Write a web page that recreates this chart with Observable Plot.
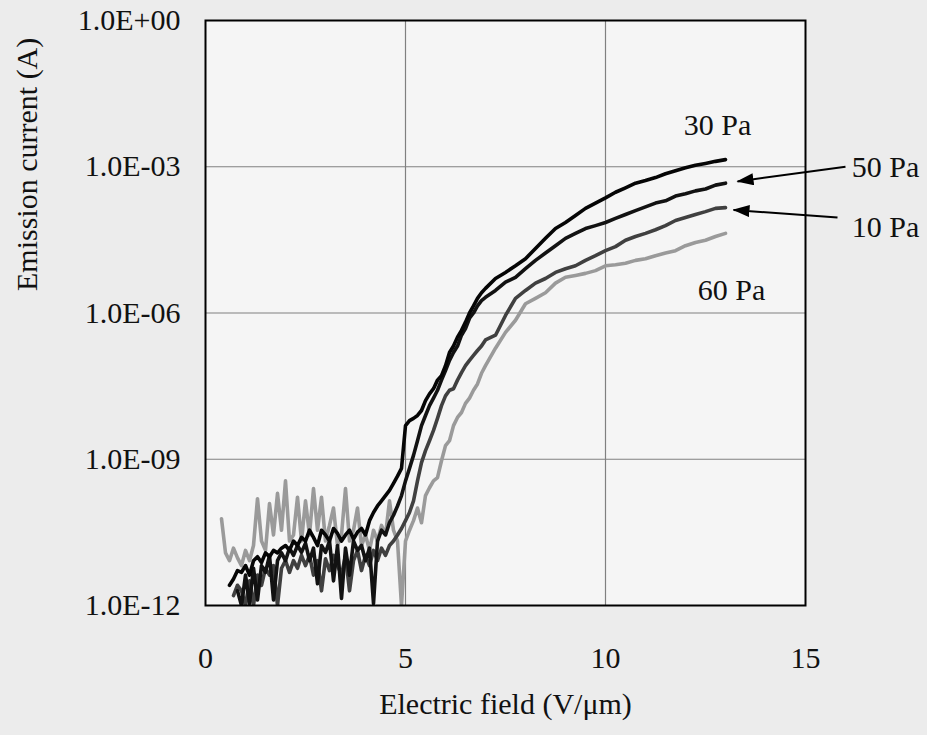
<!DOCTYPE html>
<html><head><meta charset="utf-8">
<script src="https://cdn.jsdelivr.net/npm/d3@7"></script>
<script src="https://cdn.jsdelivr.net/npm/@observablehq/plot@0.6"></script>
<style>
html,body{margin:0;padding:0;background:#ececec;}
#chart{width:927px;height:735px;}
</style></head><body><div id="chart"></div>
<script>
// Electric field grid (V/µm)
const field = [0.4,0.5,0.6,0.7,0.8,0.9,1.0,1.1,1.2,1.3,
  1.4,1.5,1.6,1.7,1.8,1.9,2.0,2.1,2.2,2.3,
  2.4,2.5,2.6,2.7,2.8,2.9,3.0,3.1,3.2,3.3,
  3.4,3.5,3.6,3.7,3.8,3.9,4.0,4.1,4.2,4.3,
  4.4,4.5,4.6,4.7,4.8,4.9,5.0,5.1,5.2,5.3,
  5.4,5.5,5.6,5.7,5.8,5.9,6.0,6.1,6.2,6.3,
  6.4,6.5,6.6,6.7,6.8,6.9,7.0,
  7.25,7.5,7.75,8.0,8.25,8.5,8.75,9.0,9.25,9.5,
  9.75,10.0,10.25,10.5,10.75,11.0,11.25,11.5,11.75,12.0,
  12.25,12.5,12.75,13.0];

// Emission current (A) per pressure
const current30 = [null,null,2.6e-12,3.5e-12,5.2e-12,4.8e-12,6.6e-12,4.2e-12,8.3e-12,1.0e-11,
  7.6e-12,1.2e-11,1.0e-11,1.35e-11,1.2e-11,1.5e-11,1.7e-11,1.35e-11,2.1e-11,1.7e-11,
  2.5e-11,2.1e-11,3.5e-11,2.5e-11,1.7e-11,3.5e-11,2.8e-11,2.1e-11,3.8e-11,3.0e-11,
  2.1e-11,2.8e-11,3.5e-11,2.3e-11,3.2e-11,3.8e-11,2.8e-11,5.5e-11,8.1e-11,1.1e-10,
  1.4e-10,1.8e-10,2.3e-10,3.2e-10,4.5e-10,6.5e-10,4.9e-9,6.2e-9,6.9e-9,7.9e-9,
  1.0e-8,1.6e-8,2.2e-8,2.8e-8,4.2e-8,5.2e-8,8.3e-8,1.55e-7,2.1e-7,3.2e-7,
  4.4e-7,6.5e-7,1.0e-6,1.4e-6,2.0e-6,2.6e-6,3.2e-6,
  5.1e-6,6.8e-6,9.3e-6,1.3e-5,2.1e-5,3.4e-5,5.4e-5,7.2e-5,1.0e-4,1.4e-4,
  1.8e-4,2.3e-4,3.0e-4,3.7e-4,4.6e-4,5.2e-4,6.0e-4,7.2e-4,8.3e-4,9.5e-4,
  1.07e-3,1.17e-3,1.29e-3,1.4e-3];

const current50 = [null,null,null,null,2.0e-12,1.0e-12,4.2e-12,1.1e-12,5.8e-12,1.3e-12,
  6.6e-12,4.8e-12,1.07e-11,1.3e-12,8.3e-12,1.2e-11,8.3e-12,1.5e-11,1.07e-11,1.7e-11,
  1.23e-11,1.9e-11,8.3e-12,1.5e-11,2.8e-12,1.7e-11,1.23e-11,2.1e-11,3.2e-12,1.7e-11,
  1.4e-12,1.5e-11,4.2e-12,2.1e-11,1.35e-11,1.7e-11,8.3e-12,1.5e-11,1.1e-12,2.1e-11,
  3.5e-11,2.8e-11,5.0e-11,7.1e-11,1.1e-10,1.8e-10,3.6e-10,6.5e-10,1.2e-9,2.4e-9,
  4.9e-9,7.9e-9,1.26e-8,1.8e-8,2.6e-8,4.2e-8,6.6e-8,1.07e-7,1.55e-7,2.1e-7,
  3.5e-7,4.8e-7,7.8e-7,1.0e-6,1.4e-6,1.8e-6,2.1e-6,
  2.9e-6,4.3e-6,5.4e-6,8.1e-6,1.2e-5,1.7e-5,2.4e-5,3.4e-5,4.3e-5,5.4e-5,
  6.2e-5,7.2e-5,8.7e-5,1.05e-4,1.26e-4,1.5e-4,1.8e-4,2.0e-4,2.5e-4,2.8e-4,
  3.2e-4,3.5e-4,4.2e-4,4.6e-4];

const current10 = [null,null,null,1.6e-12,2.6e-12,2.0e-12,1.0e-12,3.2e-12,1.0e-12,4.2e-12,
  2.6e-12,5.8e-12,4.2e-12,6.6e-12,1.0e-12,5.8e-12,8.3e-12,4.8e-12,8.3e-12,5.8e-12,
  1.07e-11,6.6e-12,1.07e-11,4.2e-12,8.3e-12,2.0e-12,9.1e-12,5.2e-12,1.07e-11,6.6e-12,
  4.2e-12,1.07e-11,2.0e-12,8.3e-12,1.35e-11,5.2e-12,1.07e-11,6.6e-12,1.35e-11,8.3e-12,
  1.5e-11,1.07e-11,1.7e-11,2.1e-11,2.8e-11,3.8e-11,5.5e-11,8.1e-11,1.4e-10,3.6e-10,
  8.5e-10,1.5e-9,2.4e-9,3.9e-9,6.9e-9,1.26e-8,2.0e-8,2.6e-8,2.8e-8,4.2e-8,
  6.0e-8,8.3e-8,1.07e-7,1.35e-7,1.7e-7,2.1e-7,2.8e-7,
  3.5e-7,8.9e-7,2.0e-6,2.9e-6,4.1e-6,5.1e-6,6.8e-6,8.1e-6,9.3e-6,1.2e-5,
  1.5e-5,1.9e-5,2.3e-5,3.1e-5,3.7e-5,4.3e-5,5.1e-5,6.2e-5,7.9e-5,9.1e-5,
  1.05e-4,1.2e-4,1.4e-4,1.45e-4];

const current60 = [6.0e-11,1.2e-11,8.3e-12,1.5e-11,9.5e-12,6.6e-12,1.35e-11,8.3e-12,1.7e-11,1.55e-10,
  2.1e-11,1.35e-11,1.23e-10,2.8e-11,2.0e-10,3.5e-11,3.6e-10,2.1e-11,2.8e-11,1.66e-10,
  2.1e-11,1.4e-10,2.8e-11,2.5e-10,3.5e-11,1.66e-10,2.1e-11,4.4e-11,1.0e-10,1.7e-11,
  2.8e-11,2.5e-10,2.1e-11,3.5e-11,1.0e-10,1.7e-11,2.8e-11,1.35e-11,3.5e-11,2.1e-11,
  4.4e-11,2.8e-11,1.4e-10,3.5e-11,2.1e-11,1.0e-12,2.1e-11,3.5e-11,5.5e-11,1.0e-10,
  5.0e-11,1.8e-10,2.6e-10,3.6e-10,4.2e-10,9.3e-10,1.9e-9,2.4e-9,4.9e-9,7.2e-9,
  9.1e-9,1.4e-8,1.8e-8,2.6e-8,3.5e-8,5.8e-8,8.3e-8,
  1.9e-7,4.0e-7,7.1e-7,1.55e-6,2.0e-6,2.6e-6,4.1e-6,5.4e-6,5.9e-6,6.5e-6,
  7.4e-6,9.3e-6,9.8e-6,1.05e-5,1.2e-5,1.3e-5,1.5e-5,1.7e-5,1.9e-5,2.4e-5,
  2.8e-5,3.1e-5,3.7e-5,4.3e-5];

const seriesNames = ["60 Pa","10 Pa","50 Pa","30 Pa"];
const seriesColors = ["#9a9a9a","#404040","#121212","#050505"];
const seriesValues = [current60, current10, current50, current30];

const xTicks = [0, 5, 10, 15];
const yTicks = [1, 1e-3, 1e-6, 1e-9, 1e-12];
const yTickLabels = ["1.0E+00","1.0E-03","1.0E-06","1.0E-09","1.0E-12"];

const labelText = ["30 Pa","50 Pa","10 Pa","60 Pa"];
const labelField = [12.8, 17.0, 17.0, 13.15];
const labelCurrent = [7e-3, 9.6e-4, 5.6e-5, 2.9e-6];

const arrowFromField = [16.0, 15.8];
const arrowFromCurrent = [1.0e-3, 9.1e-5];
const arrowToField = [13.3, 13.2];
const arrowToCurrent = [5.0e-4, 1.3e-4];

const xTitle = "Electric field (V/\u03bcm)";
const yTitle = "Emission current (A)";

const rows = [];
seriesNames.forEach((name, k) => field.forEach((e, i) => {
  const v = seriesValues[k][i];
  if (v != null) rows.push({series: name, field: e, current: v});
}));
const labels = labelText.map((t, i) => ({t, x: labelField[i], y: labelCurrent[i]}));
const arrows = arrowFromField.map((x1, i) => ({x1, y1: arrowFromCurrent[i], x2: arrowToField[i], y2: arrowToCurrent[i]}));

function filledArrow(color) {
  const m = d3.create("svg:marker")
    .attr("viewBox", "0 -6 17 12").attr("markerWidth", 17).attr("markerHeight", 12)
    .attr("refX", 16).attr("refY", 0).attr("orient", "auto").attr("markerUnits", "userSpaceOnUse");
  m.append("path").attr("d", "M0,-6L17,0L0,6Z").attr("fill", color).attr("stroke", "none");
  return m.node();
}

const chart = Plot.plot({
  width: 927, height: 735,
  marginLeft: 205, marginRight: 122, marginTop: 20, marginBottom: 130,
  style: {fontFamily: "'Liberation Serif','Times New Roman',serif", fontSize: "30px", background: "transparent", color: "#111", overflow: "visible"},
  x: {domain: [0, 15], label: null},
  y: {type: "log", domain: [1e-12, 1], label: null},
  color: {domain: seriesNames, range: seriesColors},
  marks: [
    Plot.frame({fill: "#f5f5f5", stroke: "none"}),
    Plot.gridX([5, 10], {stroke: "#808080", strokeOpacity: 1, strokeWidth: 1.2}),
    Plot.gridY([1e-3, 1e-6, 1e-9], {stroke: "#808080", strokeOpacity: 1, strokeWidth: 1.2}),
    Plot.axisX({ticks: xTicks, tickSize: 0, tickPadding: 41, label: null, tickFormat: d => String(d)}),
    Plot.axisY({ticks: yTicks, tickSize: 0, tickPadding: 25, label: null, tickFormat: d => yTickLabels[yTicks.indexOf(d)]}),
    Plot.line(rows, {x: "field", y: "current", z: "series", stroke: "series", strokeWidth: 3.6, strokeLinejoin: "round", clip: true}),
    Plot.frame({stroke: "#000", strokeWidth: 2}),
    Plot.text(labels, {x: "x", y: "y", text: "t", fill: "#111"}),
    Plot.link(arrows, {x1: "x1", y1: "y1", x2: "x2", y2: "y2", stroke: "#000", strokeWidth: 2, markerEnd: filledArrow}),
    Plot.text([yTitle], {frameAnchor: "left", rotate: -90, dx: -178, dy: -22, fill: "#111"}),
    Plot.text([xTitle], {frameAnchor: "bottom", dy: 108, fill: "#111"})
  ]
});
document.getElementById("chart").append(chart);
</script></body></html>
